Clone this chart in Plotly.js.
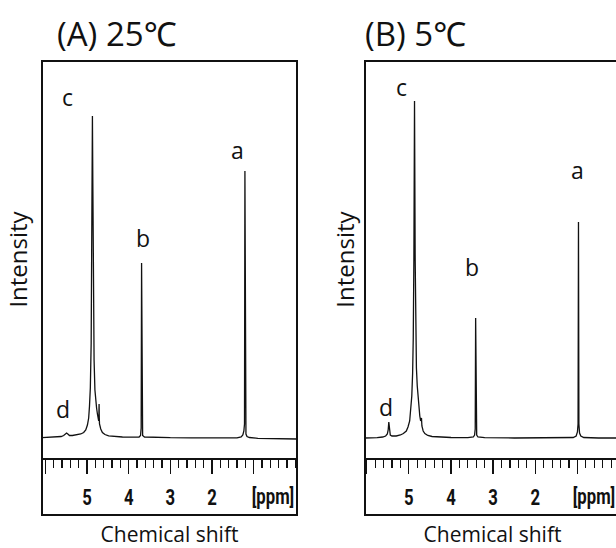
<!DOCTYPE html>
<html>
<head>
<meta charset="utf-8">
<script src="https://cdn.plot.ly/plotly-3.0.1.min.js"></script>
<style>
  html, body { margin: 0; padding: 0; overflow: hidden; background: #fff; }
  #chart { width: 622px; height: 556px; }
</style>
</head>
<body>
<div id="chart"></div>
<script>
// 1H NMR spectra at two temperatures (intensity in arbitrary units, baseline = 0)

// (A) 25 °C
const ppmA = [6.08, 5.90, 5.75, 5.62, 5.56, 5.52, 5.49, 5.46, 5.42, 5.35, 5.25, 5.15, 5.08, 5.03,
  4.99, 4.96, 4.94, 4.92, 4.90, 4.89, 4.88, 4.87, 4.86, 4.85, 4.84, 4.83, 4.81, 4.79, 4.77, 4.75,
  4.73, 4.72, 4.715, 4.71, 4.705, 4.70, 4.67, 4.63, 4.57, 4.48, 4.35, 4.15, 3.90, 3.75, 3.715,
  3.70, 3.69, 3.68, 3.665, 3.62, 3.40, 3.00, 2.50, 2.00, 1.60, 1.40, 1.30, 1.26, 1.235, 1.22,
  1.21, 1.20, 1.185, 1.16, 1.10, 0.90, 0.50, -0.04];
const intA = [0.3, 0.5, 0.8, 1.5, 2.5, 4, 5, 4, 2.5, 2.5, 3, 4, 5.5, 8,
  13, 20, 32, 50, 95, 150, 250, 322, 255, 165, 110, 78, 48, 36, 30, 24,
  19, 17, 22, 34, 20, 14, 9, 5.5, 3.5, 2.2, 1.5, 1, 0.8, 1, 2.5,
  10, 175, 10, 2.5, 1, 0.5, 0.3, 0.2, 0, -0.3, 0.2, 1, 3, 7, 14,
  267, 12, 4, 1.5, 0.5, -0.3, -0.7, -1];

// (B) 5 °C
const ppmB = [6.04, 5.90, 5.75, 5.62, 5.55, 5.51, 5.49, 5.475, 5.46, 5.44, 5.40, 5.30, 5.20, 5.13,
  5.06, 5.02, 4.98, 4.95, 4.93, 4.91, 4.895, 4.88, 4.865, 4.85, 4.835, 4.82, 4.80, 4.78, 4.76,
  4.74, 4.72, 4.71, 4.70, 4.69, 4.66, 4.62, 4.55, 4.45, 4.30, 4.00, 3.60, 3.47, 3.44, 3.425,
  3.415, 3.405, 3.39, 3.36, 3.20, 2.50, 2.00, 1.40, 1.10, 1.03, 1.00, 0.985, 0.975, 0.965,
  0.95, 0.92, 0.85, 0.50, -0.01];
const intB = [0, 0, 0.3, 1, 2, 4, 8, 16, 8, 3, 2, 2, 3, 4.5,
  7, 11, 17, 28, 42, 65, 100, 180, 337, 180, 100, 70, 52, 40, 30,
  22, 17, 19, 20, 12, 7, 4.5, 2.5, 1.5, 1, 0.5, 0.3, 1, 3, 9,
  120, 9, 3, 1, 0.3, 0, 0, 0, 0.5, 2, 6, 14, 216, 14,
  5, 2, 0.5, 0, 0];

// Peak labels: [label, ppm, intensity]
const labelsA = [['c', 5.46, 341], ['b', 3.66, 200], ['a', 1.40, 288], ['d', 5.58, 29]];
const labelsB = [['c', 5.17, 351], ['b', 3.50, 171], ['a', 1.01, 268], ['d', 5.54, 31]];

const panelTitles = ['(A) 25\u2103', '(B) 5\u2103'];
const majorTicks = [6, 5, 4, 3, 2, 1];
const majorText = ['', '5', '4', '3', '2', ''];
const unitLabel = '[ppm]';

const W = 622, H = 556;
const TXT = 'Open Sans, Noto Sans, sans-serif';
const TICKFONT = 'Roboto, Liberation Sans, sans-serif';
const yDom = [(H - 458) / H, (H - 61) / H];

function xAxis(domain, range) {
  return {
    domain: domain, range: range, autorange: false,
    showline: true, linecolor: '#111', linewidth: 1.5,
    showgrid: false, zeroline: false,
    tickmode: 'array', tickvals: majorTicks, ticktext: majorText,
    ticks: 'outside', ticklen: 14, tickwidth: 1.3, tickcolor: '#111',
    ticklabelstandoff: 5,
    tickfont: { family: TICKFONT, size: 22, color: '#111', weight: 'bold' },
    minor: { tickmode: 'linear', tick0: 0, dtick: 0.2, ticks: 'outside', ticklen: 8,
             tickwidth: 1.1, tickcolor: '#111', showgrid: false },
    title: { text: 'Chemical shift', font: { family: TXT, size: 21, color: '#111' }, standoff: 18 },
    fixedrange: true
  };
}
function yAxis(anchor, standoff) {
  return {
    domain: yDom, range: [-20, 377], autorange: false, anchor: anchor,
    showline: false, showgrid: false, zeroline: false,
    showticklabels: false, ticks: '',
    title: { text: 'Intensity', font: { family: TXT, size: 24, color: '#111' }, standoff: standoff },
    fixedrange: true
  };
}

const traces = [
  { x: ppmA, y: intA, xaxis: 'x', yaxis: 'y', type: 'scatter', mode: 'lines',
    line: { color: '#111', width: 1.3 }, hoverinfo: 'skip', showlegend: false },
  { x: ppmB, y: intB, xaxis: 'x2', yaxis: 'y2', type: 'scatter', mode: 'lines',
    line: { color: '#111', width: 1.3 }, hoverinfo: 'skip', showlegend: false }
];

const annotations = [];
function peakLabels(list, xr, yr) {
  list.forEach(([t, x, y]) => annotations.push({
    text: t, x: x, y: y, xref: xr, yref: yr, showarrow: false,
    xanchor: 'center', yanchor: 'middle',
    font: { family: TXT, size: 23, color: '#111' }
  }));
}
peakLabels(labelsA, 'x', 'y');
peakLabels(labelsB, 'x2', 'y2');

[[55, 0], [363, 1]].forEach(([px, i]) => annotations.push({
  text: panelTitles[i], x: px / W, y: (H - 34) / H, xref: 'paper', yref: 'paper',
  xanchor: 'left', yanchor: 'middle', showarrow: false,
  font: { family: TXT + ', Noto Sans CJK JP', size: 33, color: '#111' }
}));

// unit label sits to the right of the 1 ppm tick
[['x', 0.53], ['x2', 0.60]].forEach(([xr, x]) => annotations.push({
  text: unitLabel, x: x, y: (H - 496) / H, xref: xr, yref: 'paper',
  xanchor: 'center', yanchor: 'middle', showarrow: false,
  font: { family: TICKFONT, size: 22, color: '#111', weight: 'bold' }
}));

// frame around each spectrum including its scale
const shapes = [['x', 'y'], ['x2', 'y2']].map(([xr, yr]) => ({
  type: 'rect', xref: xr + ' domain', yref: yr + ' domain',
  x0: 0, x1: 1, y0: (458 - 515) / 397, y1: 1,
  line: { color: '#111', width: 2 }, fillcolor: 'rgba(0,0,0,0)', layer: 'above'
}));

const layout = {
  width: W, height: H,
  margin: { l: 0, r: 0, t: 0, b: 0, pad: 0 },
  paper_bgcolor: '#fff', plot_bgcolor: '#fff',
  xaxis: xAxis([42 / W, 297 / W], [6.08, -0.04]),
  yaxis: yAxis('x', 6),
  xaxis2: xAxis([365 / W, 620 / W], [6.04, -0.01]),
  yaxis2: yAxis('x2', 2),
  annotations: annotations,
  shapes: shapes,
  showlegend: false
};

// squeeze the scale numbers horizontally about their own centres (narrow face)
function narrow(el, k) {
  const b = el.getBBox();
  const cx = b.x + b.width / 2;
  const t = el.getAttribute('transform') || '';
  el.setAttribute('transform', t + ' translate(' + cx + ',0) scale(' + k + ',1) translate(' + (-cx) + ',0)');
}

Plotly.newPlot('chart', traces, layout, { displayModeBar: false, staticPlot: true }).then(() => {
  document.querySelectorAll('.xtick text, .x2tick text').forEach(el => narrow(el, 0.76));
  document.querySelectorAll('.annotation-text').forEach(el => {
    if (el.textContent === unitLabel) narrow(el, 0.76);
  });
});
</script>
</body>
</html>
